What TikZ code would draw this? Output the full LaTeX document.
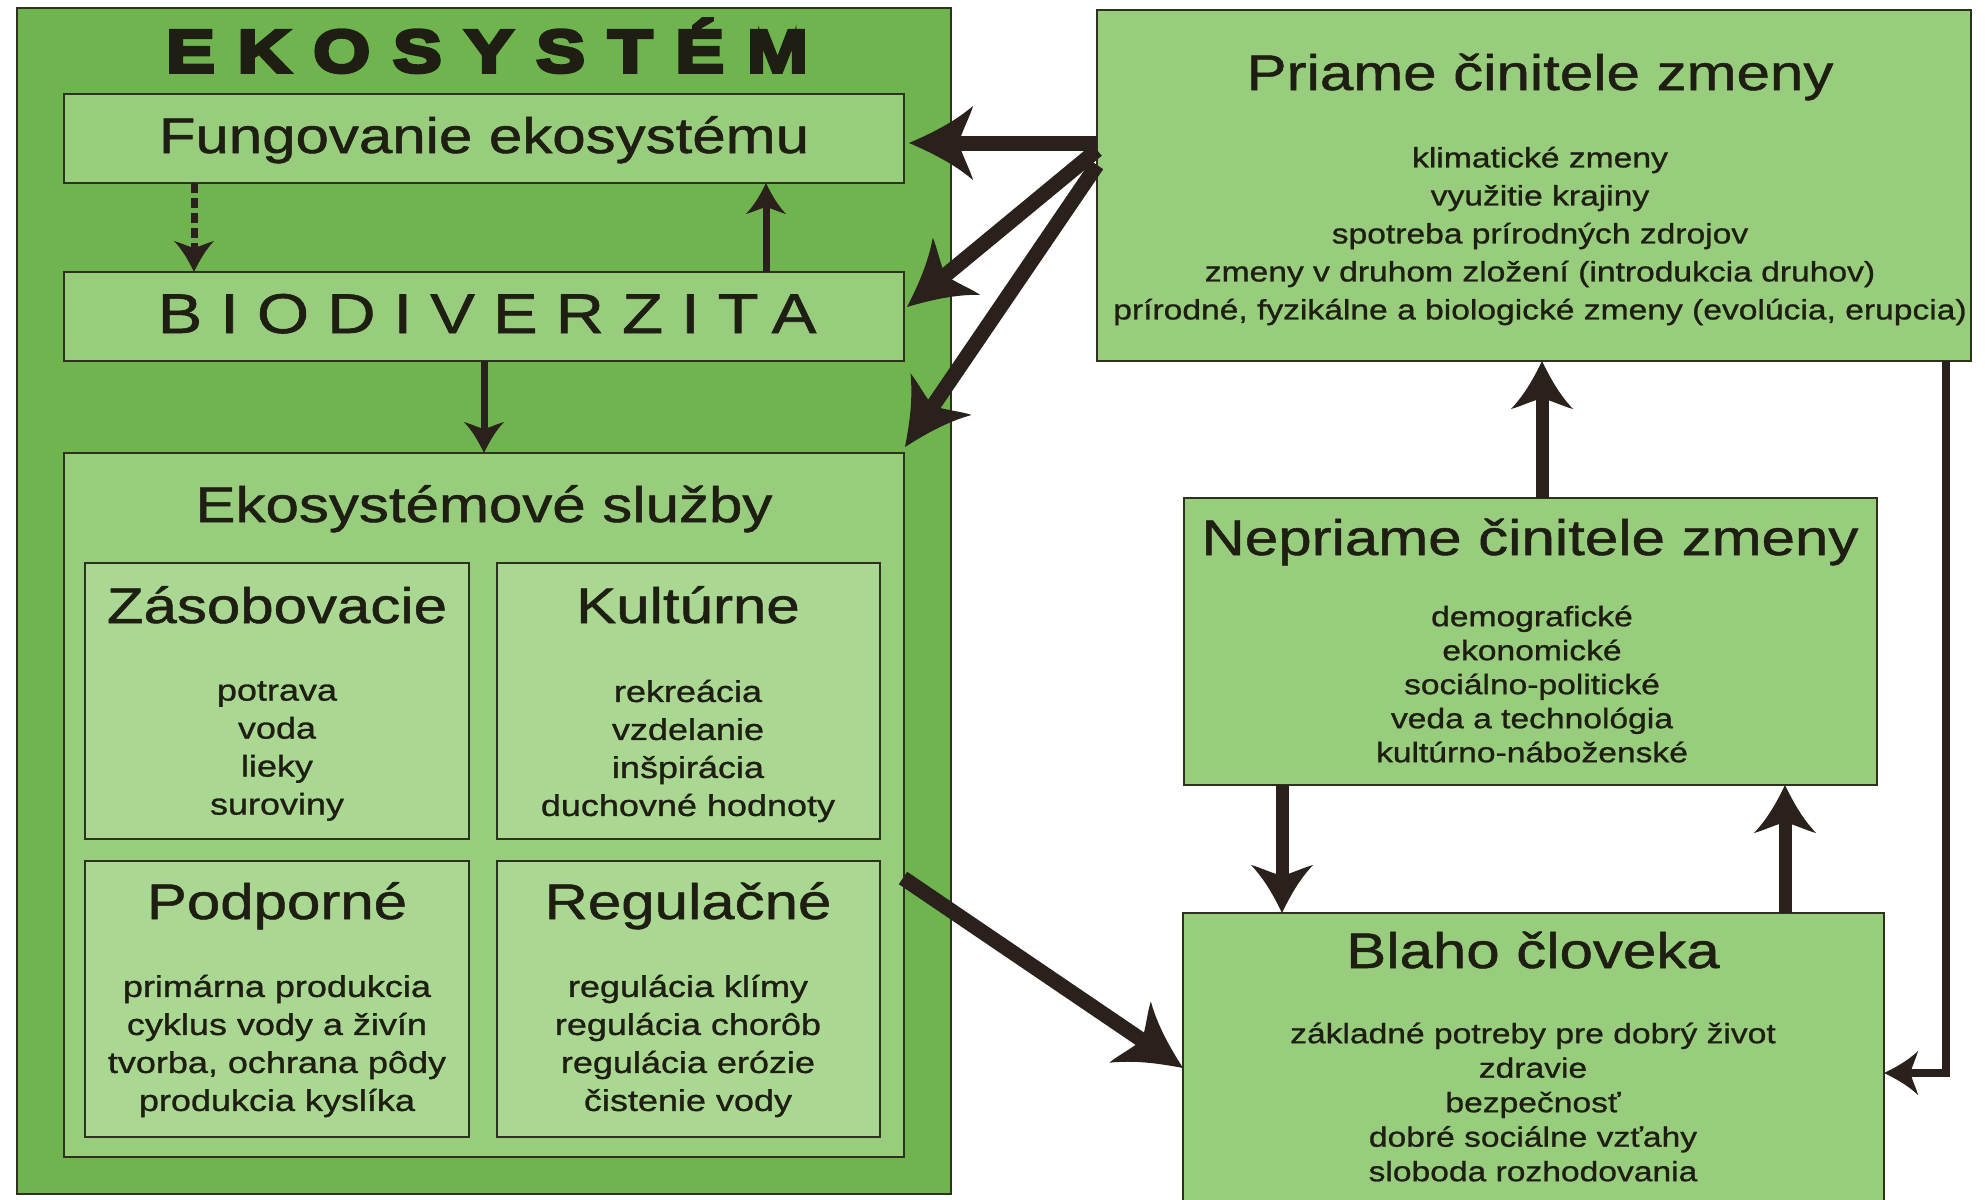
\documentclass[tikz,border=0pt]{standalone}
\usepackage{fontspec}
\setmainfont{Liberation Sans}[FakeStretch=1.2,FakeBold=1]
\newfontfamily\ekofont{Liberation Sans}[FakeStretch=1.22,FakeBold=6,LetterSpace=38]
\newfontfamily\biofont{Liberation Sans}[FakeStretch=1.2,FakeBold=1,LetterSpace=32]
\usetikzlibrary{arrows.meta,calc}
\definecolor{ekodark}{RGB}{112,180,80}
\definecolor{ekolight}{RGB}{152,205,125}
\definecolor{ekopale}{RGB}{170,215,145}
\definecolor{edge}{RGB}{45,50,30}
\definecolor{ink}{RGB}{42,32,28}
\definecolor{txt}{RGB}{30,30,18}
\pgfdeclarearrow{
  name = Swept,
  parameters = {\the\pgfarrowlength,\the\pgfarrowwidth},
  setup code = {
    \pgfarrowssettipend{0pt}
    \pgfarrowssetbackend{-\pgfarrowlength}
    \pgfarrowssetlineend{-0.7\pgfarrowlength}
    \pgfarrowssavethe\pgfarrowlength
    \pgfarrowssavethe\pgfarrowwidth
  },
  drawing code = {
    \pgfpathmoveto{\pgfqpoint{0pt}{0pt}}
    \pgfpathcurveto{\pgfpoint{-0.35\pgfarrowlength}{0.13\pgfarrowwidth}}{\pgfpoint{-0.7\pgfarrowlength}{0.28\pgfarrowwidth}}{\pgfpoint{-\pgfarrowlength}{0.5\pgfarrowwidth}}
    \pgfpathcurveto{\pgfpoint{-0.95\pgfarrowlength}{0.35\pgfarrowwidth}}{\pgfpoint{-0.82\pgfarrowlength}{0.15\pgfarrowwidth}}{\pgfpoint{-0.78\pgfarrowlength}{0pt}}
    \pgfpathcurveto{\pgfpoint{-0.82\pgfarrowlength}{-0.15\pgfarrowwidth}}{\pgfpoint{-0.95\pgfarrowlength}{-0.35\pgfarrowwidth}}{\pgfpoint{-\pgfarrowlength}{-0.5\pgfarrowwidth}}
    \pgfpathcurveto{\pgfpoint{-0.7\pgfarrowlength}{-0.28\pgfarrowwidth}}{\pgfpoint{-0.35\pgfarrowlength}{-0.13\pgfarrowwidth}}{\pgfqpoint{0pt}{0pt}}
    \pgfpathclose
    \pgfusepathqfill
  },
  defaults = {length=60pt, width=70pt}
}
\begin{document}
\begin{tikzpicture}[x=1pt,y=-1pt,
  box/.style={draw=edge,line width=2.5pt,fill=#1,inner sep=0pt,outer sep=0pt,anchor=north west},
  ttl/.style={anchor=base,inner sep=0pt,text=txt,font=\fontsize{50}{60}\selectfont},
  items/.style={anchor=center,inner sep=0pt,text=txt,align=center,font=\fontsize{28}{38}\selectfont},
  subitems/.style={items,font=\fontsize{30}{38}\selectfont},
  lowitems/.style={items,font=\fontsize{28}{34.5}\selectfont},
  bigarrow/.style={draw=ink,line width=15pt,-{Swept[length=64pt,width=74pt]}},
  medarrow/.style={draw=ink,line width=13pt,-{Swept[length=48pt,width=62pt]}},
  smallarrow/.style={draw=ink,line width=7pt,-{Swept[length=31pt,width=40pt]}},
  looparrow/.style={draw=ink,line width=8pt,-{Swept[length=34pt,width=44pt]}},
]
\useasboundingbox (0,0) rectangle (1985,1199);
\fill[white] (0,0) rectangle (1985,1199);

% ---- boxes ----
\node[box=ekodark,minimum width=934pt,minimum height=1186pt] (eko) at (17,8) {};
\node[box=ekolight,minimum width=840pt,minimum height=89pt] (fung) at (64,94) {};
\node[box=ekolight,minimum width=840pt,minimum height=89pt] (bio) at (64,272) {};
\node[box=ekolight,minimum width=840pt,minimum height=704pt] (sluzby) at (64,453) {};
\node[box=ekopale,minimum width=384pt,minimum height=276pt] (zas) at (85,563) {};
\node[box=ekopale,minimum width=383pt,minimum height=276pt] (kult) at (497,563) {};
\node[box=ekopale,minimum width=384pt,minimum height=276pt] (podp) at (85,861) {};
\node[box=ekopale,minimum width=383pt,minimum height=276pt] (regul) at (497,861) {};
\node[box=ekolight,minimum width=874pt,minimum height=351pt] (priame) at (1097,10) {};
\node[box=ekolight,minimum width=693pt,minimum height=287pt] (nepriame) at (1184,498) {};
\node[box=ekolight,minimum width=701pt,minimum height=302pt] (blaho) at (1183,913) {};

% ---- texts ----
\node[anchor=base,inner sep=0pt,text=txt,font=\ekofont\bfseries\fontsize{60}{70}\selectfont] (ekotitle) at (487,72) {EKOSYSTÉM};
\node[ttl] (fungtext) at (484,153) {Fungovanie ekosystému};
\node[anchor=base,inner sep=0pt,text=txt,font=\biofont\fontsize{56}{66}\selectfont] (biotext) at (487,333) {BIODIVERZITA};
\node[ttl] (sluzbytitle) at (484,522) {Ekosystémové služby};
\node[ttl] (zastitle) at (277,623) {Zásobovacie};
\node[subitems] (zasitems) at (277,751) {potrava\\voda\\lieky\\suroviny};
\node[ttl] (kulttitle) at (688,623) {Kultúrne};
\node[subitems] (kultitems) at (688,751) {rekreácia\\vzdelanie\\inšpirácia\\duchovné hodnoty};
\node[ttl] (podptitle) at (277,919) {Podporné};
\node[subitems] (podpitems) at (277,1046) {primárna produkcia\\cyklus vody a živín\\tvorba, ochrana pôdy\\produkcia kyslíka};
\node[ttl] (regultitle) at (688,919) {Regulačné};
\node[subitems] (regulitems) at (688,1046) {regulácia klímy\\regulácia chorôb\\regulácia erózie\\čistenie vody};
\node[ttl] (priametitle) at (1540,90) {Priame činitele zmeny};
\node[items] (priameitems) at (1540,236) {klimatické zmeny\\využitie krajiny\\spotreba prírodných zdrojov\\zmeny v druhom zložení (introdukcia druhov)\\prírodné, fyzikálne a biologické zmeny (evolúcia, erupcia)};
\node[ttl] (nepriametitle) at (1530,555) {Nepriame činitele zmeny};
\node[lowitems,font=\fontsize{28}{34}\selectfont] (nepriameitems) at (1532,684) {demografické\\ekonomické\\sociálno-politické\\veda a technológia\\kultúrno-náboženské};
\node[ttl] (blahotitle) at (1533,968) {Blaho človeka};
\node[lowitems] (blahoitems) at (1533,1102) {základné potreby pre dobrý život\\zdravie\\bezpečnosť\\dobré sociálne vzťahy\\sloboda rozhodovania};

% ---- connectors ----
\draw[smallarrow,dash pattern=on 10pt off 5pt] ($(fung.south west)+(130,0)$) -- ($(bio.north west)+(130,0)$);
\draw[smallarrow] ($(bio.north west)+(702,0)$) -- ($(fung.south west)+(702,0)$);
\draw[smallarrow] ($(bio.south west)+(420,0)$) -- ($(sluzby.north west)+(420,0)$);

\draw[bigarrow] ($(priame.north west)+(0,133)$) -- ($(fung.north east)+(5,49)$);
\draw[bigarrow] ($(priame.north west)+(0,140)$) -- ($(bio.north east)+(3,35)$);
\draw[bigarrow] ($(priame.north west)+(0,155)$) -- ($(sluzby.north east)+(1,-6)$);
\draw[bigarrow] ($(sluzby.north east)+(-1,425)$) -- ($(blaho.north west)+(0,155)$);

\draw[medarrow] ($(nepriame.north west)+(358,0)$) -- ($(priame.south west)+(445,0)$);
\draw[medarrow] ($(nepriame.south west)+(98,0)$) -- ($(blaho.north west)+(99,0)$);
\draw[medarrow] ($(blaho.north west)+(602,0)$) -- ($(nepriame.south west)+(601,0)$);
\draw[looparrow] ($(priame.south east)+(-25,0)$) |- ($(blaho.north east)+(0,160)$);
\end{tikzpicture}
\end{document}
